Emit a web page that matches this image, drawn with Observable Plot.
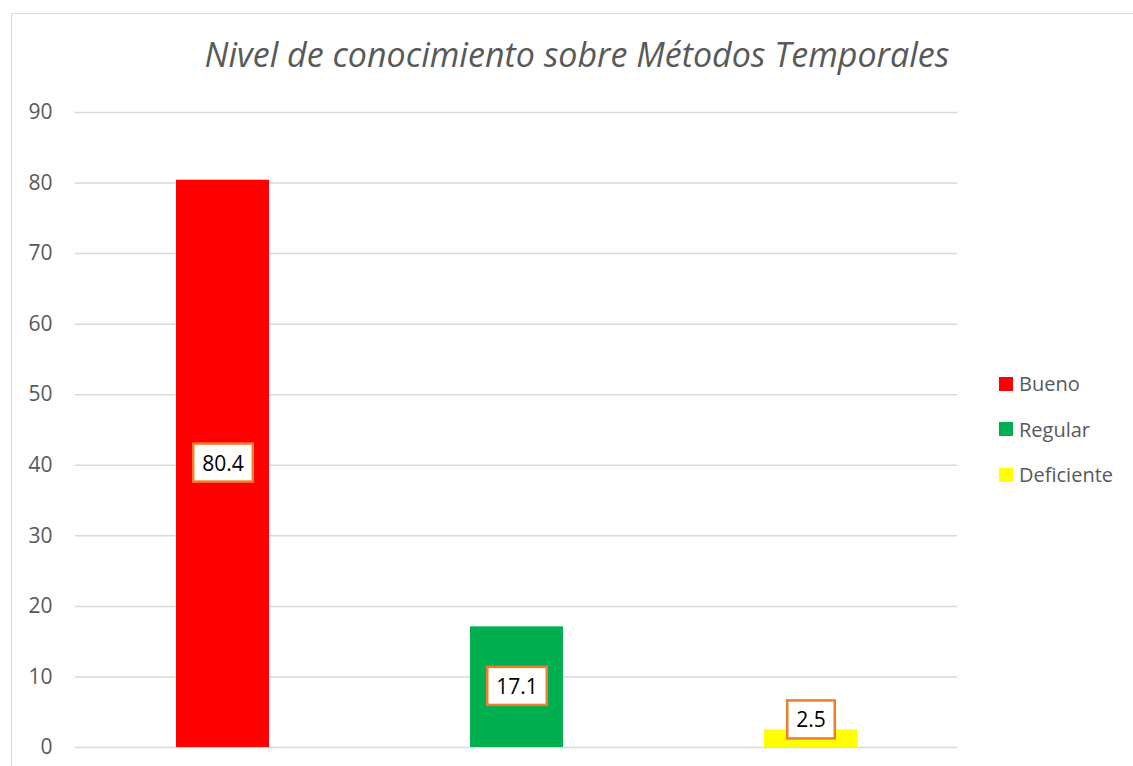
<!DOCTYPE html>
<html>
<head>
<meta charset="utf-8">
<script src="https://cdn.jsdelivr.net/npm/d3@7"></script>
<script src="https://cdn.jsdelivr.net/npm/@observablehq/plot@0.6"></script>
<style>
  html, body { margin: 0; padding: 0; background: #fff; }
  body { width: 1133px; height: 766px; position: relative; overflow: hidden; font-family: "Open Sans", sans-serif; }
  #frame { position: absolute; left: 11px; top: 13px; width: 1140px; height: 780px; border: 1.5px solid #d9d9d9; box-sizing: border-box; }
  #title { position: absolute; left: 0; width: 1154px; top: 32px; text-align: center; font-style: italic; font-size: 34px; color: #595959; white-space: nowrap; line-height: 44px; }
  #chart { position: absolute; left: 0; top: 0; }
  #legend { position: absolute; left: 999px; top: 361px; font-size: 20px; color: #595959; }
  .item { display: flex; align-items: center; height: 45.5px; }
  .sw { width: 14px; height: 14px; margin-right: 6px; }
</style>
</head>
<body>
<div id="frame"></div>
<div id="title">Nivel de conocimiento sobre Métodos Temporales</div>
<div id="chart"></div>
<div id="legend"></div>
<script>
const categories = ["Bueno", "Regular", "Deficiente"];
const values = [80.4, 17.1, 2.5];
const colors = ["#ff0000", "#00b050", "#ffff00"];
const yTicks = [0, 10, 20, 30, 40, 50, 60, 70, 80, 90];

const data = categories.map((c, i) => ({ cat: c, value: values[i], color: colors[i] }));

const plot = Plot.plot({
  width: 1133,
  height: 766,
  marginLeft: 75,
  marginRight: 176,
  marginTop: 112,
  marginBottom: 19,
  style: { fontFamily: "'Open Sans', sans-serif", background: "transparent" },
  x: { domain: categories, paddingInner: 0.684, paddingOuter: 0.342, axis: null },
  y: { domain: [0, 90], ticks: yTicks },
  marks: [
    Plot.gridY(yTicks, { stroke: "#d9d9d9", strokeOpacity: 1, strokeWidth: 1.5 }),
    Plot.axisY(yTicks, { tickSize: 0, tickPadding: 23, fontSize: 21, fill: "#595959", label: null }),
    Plot.barY(data, { x: "cat", y: "value", fill: "color" }),
    Plot.text(data, {
      x: "cat",
      y: d => Math.max(d.value / 2, 3.8),
      text: d => d.value.toFixed(1),
      fontSize: 21,
      fill: "#000",
      className: "vlabel"
    })
  ]
});

document.getElementById("chart").appendChild(plot);

// draw bordered label boxes behind the value labels
const svgNS = "http://www.w3.org/2000/svg";
plot.querySelectorAll("g.vlabel text").forEach(t => {
  const b = t.getBBox();
  const w = b.width + 18, h = 38;
  const cx = b.x + b.width / 2, cy = b.y + b.height / 2;
  const r = document.createElementNS(svgNS, "rect");
  r.setAttribute("x", cx - w / 2);
  r.setAttribute("y", cy - h / 2);
  r.setAttribute("width", w);
  r.setAttribute("height", h);
  r.setAttribute("fill", "#fff");
  r.setAttribute("stroke", "#ed7d31");
  r.setAttribute("stroke-width", 2.5);
  const tr = t.getAttribute("transform");
  if (tr) r.setAttribute("transform", tr);
  t.parentNode.insertBefore(r, t);
});

// legend
const leg = document.getElementById("legend");
categories.forEach((c, i) => {
  const it = document.createElement("div");
  it.className = "item";
  it.innerHTML = `<span class="sw" style="background:${colors[i]}"></span><span>${c}</span>`;
  leg.appendChild(it);
});
</script>
</body>
</html>
